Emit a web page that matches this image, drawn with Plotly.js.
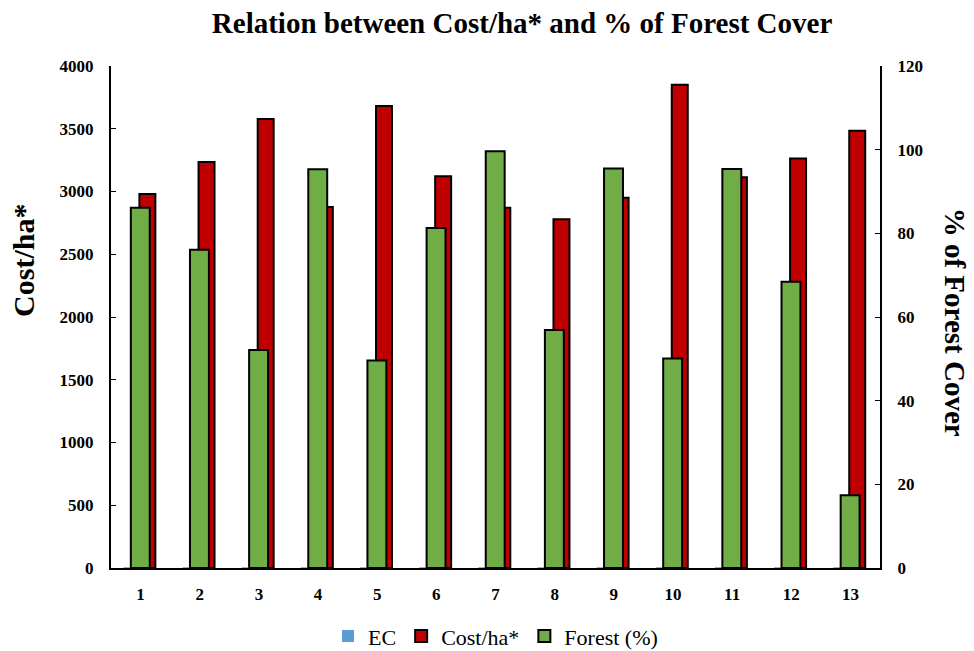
<!DOCTYPE html>
<html>
<head>
<meta charset="utf-8">
<script src="https://cdn.plot.ly/plotly-3.0.1.min.js"></script>
<style>
  html, body { margin: 0; padding: 0; background: #fff; }
  #chart { width: 974px; height: 651px; }
</style>
</head>
<body>
<div id="chart"></div>
<script>
// Sites 1–13
const sites = ['1', '2', '3', '4', '5', '6', '7', '8', '9', '10', '11', '12', '13'];

// EC (barely above zero at every site)
const ecValues = [6, 6, 6, 6, 6, 6, 6, 6, 6, 6, 6, 6, 6];

// Cost per hectare (left axis)
const costPerHa = [2980, 3235, 3578, 2876, 3681, 3121, 2871, 2778, 2951, 3851, 3113, 3262, 3485];

// Forest cover in percent (right axis)
const forestPct = [86.1, 76.1, 52.1, 95.3, 49.6, 81.3, 99.6, 56.9, 95.5, 50.1, 95.4, 68.4, 17.4];

const serif = 'Liberation Serif, Times New Roman, serif';

const traces = [
  {
    type: 'bar', name: 'EC', x: sites, y: ecValues, yaxis: 'y',
    width: 0.27, offset: -0.29,
    marker: { color: '#5B9BD5', line: { width: 0 } }
  },
  {
    type: 'bar', name: 'Cost/ha*', x: sites, y: costPerHa, yaxis: 'y',
    width: 0.27, offset: -0.02,
    marker: { color: '#C00000', line: { color: '#000', width: 2 } }
  },
  {
    type: 'bar', name: 'Forest (%)', x: sites, y: forestPct, yaxis: 'y2',
    width: 0.32, offset: -0.165,
    marker: { color: '#70AD47', line: { color: '#000', width: 2 } }
  }
];

const layout = {
  width: 974, height: 651,
  margin: { l: 111, r: 94, t: 66, b: 83, autoexpand: false },
  paper_bgcolor: '#fff', plot_bgcolor: '#fff',
  barmode: 'overlay',
  font: { family: serif, color: '#000' },
  title: {
    text: '<b>Relation between Cost/ha* and % of Forest Cover</b>',
    font: { family: serif, size: 29, color: '#000' },
    x: 0.536, xanchor: 'center', y: 0.965, yanchor: 'middle'
  },
  xaxis: {
    type: 'category',
    range: [-0.5, 12.5],
    showline: true, linecolor: '#000', linewidth: 2,
    ticks: '', showgrid: false, zeroline: false,
    tickfont: { family: serif, size: 17, weight: 'bold', color: '#000' },
    ticklabelstandoff: 10
  },
  yaxis: {
    range: [0, 4000], dtick: 500,
    showline: true, linecolor: '#000', linewidth: 2,
    ticks: 'inside', ticklen: 5, tickwidth: 1, tickcolor: '#000',
    showgrid: false, zeroline: false,
    tickfont: { family: serif, size: 17, weight: 'bold', color: '#000' },
    ticklabelstandoff: 12
  },
  yaxis2: {
    range: [0, 120], dtick: 20,
    overlaying: 'y', side: 'right',
    showline: true, linecolor: '#000', linewidth: 2,
    ticks: 'inside', ticklen: 5, tickwidth: 1, tickcolor: '#000',
    showgrid: false, zeroline: false,
    tickfont: { family: serif, size: 17, weight: 'bold', color: '#000' },
    ticklabelstandoff: 12
  },
  annotations: [
    {
      // left axis title
      text: '<b>Cost/ha*</b>',
      xref: 'paper', yref: 'paper', x: -0.113, y: 0.612,
      xanchor: 'center', yanchor: 'middle',
      textangle: -90, showarrow: false,
      font: { family: serif, size: 30, color: '#000' }
    },
    {
      // right axis title
      text: '<b>% of Forest Cover</b>',
      xref: 'paper', yref: 'paper', x: 1.098, y: 0.49,
      xanchor: 'center', yanchor: 'middle',
      textangle: 90, showarrow: false,
      font: { family: serif, size: 29, color: '#000' }
    }
  ],
  showlegend: true,
  legend: {
    orientation: 'h', x: 0.5, xanchor: 'center', y: -0.094, yanchor: 'top',
    font: { family: serif, size: 22, color: '#000' },
    itemwidth: 30, traceorder: 'normal'
  }
};

Plotly.newPlot('chart', traces, layout, { displayModeBar: false, staticPlot: true });
</script>
</body>
</html>
